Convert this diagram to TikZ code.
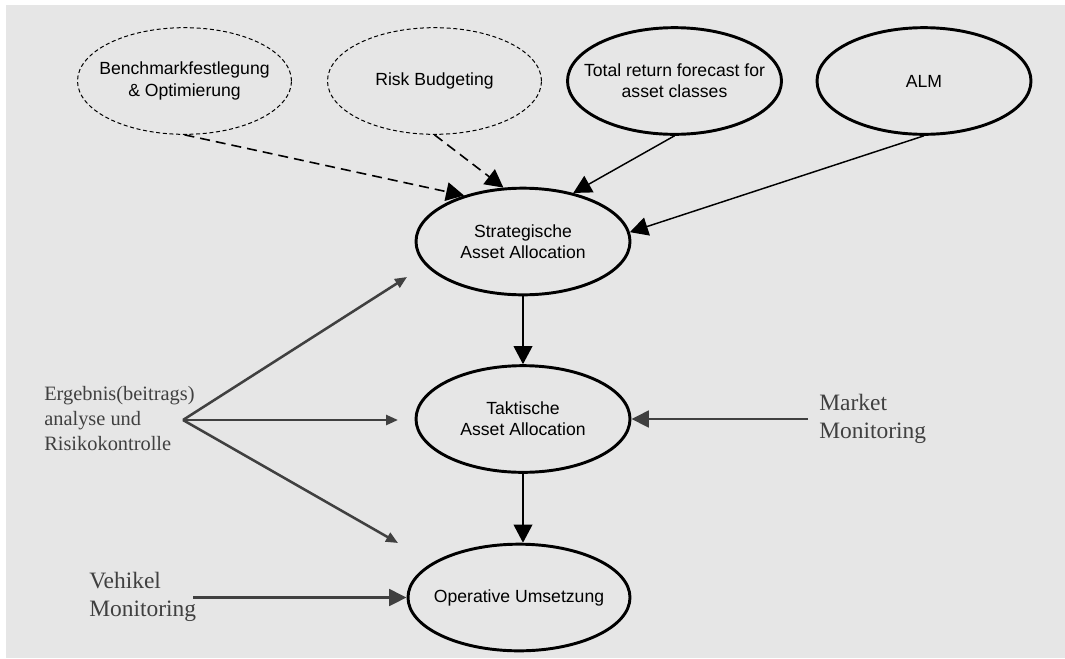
\documentclass[tikz,border=0pt]{standalone}
\usepackage{fontspec}
\setmainfont{Liberation Serif}
\setsansfont{Liberation Sans}
\usetikzlibrary{shapes.geometric,arrows.meta}
\definecolor{panel}{HTML}{E6E6E6}
\definecolor{lbl}{HTML}{404040}
\begin{document}
\begin{tikzpicture}[x=0.75pt,y=-0.75pt,
 box/.style={ellipse, draw=black, line width=2.2pt, minimum width=160.5pt, minimum height=80pt, inner sep=0pt},
 dbox/.style={box, line width=0.75pt, dash pattern=on 3pt off 2pt},
 txt/.style={inner sep=0pt, align=center, font=\sffamily\fontsize{13.2}{15.9}\selectfont},
 flow/.style={draw=black, line width=1.1pt, -{Triangle[length=13.5pt,width=14pt]}},
 dflow/.style={flow, line width=1.2pt, dash pattern=on 7.5pt off 4.5pt},
 gflow/.style={draw=lbl, line width=1.9pt, -{Triangle[length=9pt,width=7.5pt]}},
 gbig/.style={draw=lbl, line width=1.9pt, -{Triangle[length=13pt,width=12.5pt]}},
 side/.style={text=lbl, align=left, inner sep=0pt, anchor=west},
]
\useasboundingbox (0,0) rectangle (1065,658);
\fill[panel] (6,5) rectangle (1065,658);

\node[dbox] (bench) at (184.5,81) {};
\node[dbox] (risk) at (434.5,81) {};
\node[box] (total) at (674.5,81) {};
\node[box] (alm) at (924,81) {};
\node[box] (strat) at (523,241.5) {};
\node[box] (tak) at (523,419) {};
\node[box, minimum width=166.5pt] (op) at (519,597.5) {};

\node[txt] (bench-t) at (bench) {Benchmarkfestlegung\\\& Optimierung};
\node[txt] (risk-t) at (risk) {Risk Budgeting};
\node[txt] (total-t) at (total) {Total return forecast for\\asset classes};
\node[txt] (alm-t) at (alm) {ALM};
\node[txt] (strat-t) at (strat) {Strategische\\Asset Allocation};
\node[txt] (tak-t) at (tak) {Taktische\\Asset Allocation};
\node[txt] (op-t) at (op) {Operative Umsetzung};

\node[side, font=\fontsize{15.3}{18.75}\selectfont] (erg) at (44,419) {Ergebnis(beitrags)\\analyse und\\Risikokontrolle};
\node[side, font=\fontsize{17.6}{21}\selectfont] (veh) at (89,597) {Vehikel\\Monitoring};
\node[side, font=\fontsize{17.6}{21}\selectfont] (mkt) at (819,419) {Market\\Monitoring};

\coordinate (branch) at (183,420);
\coordinate (e1) at (407,277);
\coordinate (e2) at (398,420);
\coordinate (e3) at (398,543);
\coordinate (mstart) at (808,419);
\coordinate (vstart) at (193,597.5);

\draw[dflow] (bench.south) -- (strat.142);
\draw[dflow] (risk.south) -- (strat.110);
\draw[flow] (total.south) -- (strat.44);
\draw[flow] (alm.south) -- (strat.5);
\draw[flow] (strat.south) -- (tak.north);
\draw[flow] (tak.south) -- (tak.south |- op.north);

\draw[gflow] (branch) -- (e1);
\draw[gflow] (branch) -- (e2);
\draw[gflow] (branch) -- (e3);
\draw[gbig] (mstart) -- (tak.east);
\draw[gbig] (vstart) -- (op.west);
\end{tikzpicture}
\end{document}
